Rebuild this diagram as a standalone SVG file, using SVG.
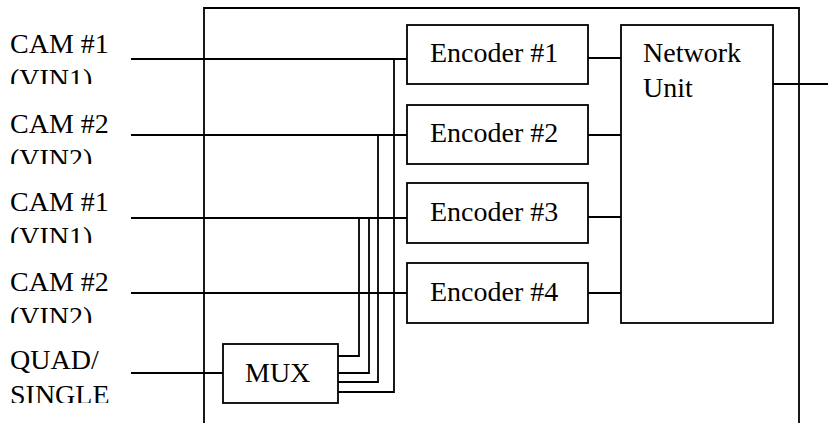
<svg xmlns="http://www.w3.org/2000/svg" width="828" height="423" viewBox="0 0 828 423" font-family="Liberation Serif, serif">
<defs>
<clipPath id="c1"><rect x="0" y="25" width="130" height="59"/></clipPath>
<clipPath id="c2"><rect x="0" y="105" width="130" height="59"/></clipPath>
<clipPath id="c3"><rect x="0" y="183" width="130" height="60"/></clipPath>
<clipPath id="c4"><rect x="0" y="263" width="130" height="60"/></clipPath>
<clipPath id="c5"><rect x="0" y="340" width="130" height="63"/></clipPath>
</defs>
<rect width="828" height="423" fill="#fff"/>
<g id="frame" fill="none" stroke="#000" stroke-width="1.8">
<path d="M204,423 V8 H799 V423"/>
</g>
<g id="labels" fill="#000">
<g clip-path="url(#c1)"><text x="10" y="53" font-family="Liberation Serif" font-size="28">CAM #1</text><text x="10" y="88" font-family="Liberation Serif" font-size="28">(VIN1)</text></g>
<g clip-path="url(#c2)"><text x="10" y="133" font-family="Liberation Serif" font-size="28">CAM #2</text><text x="10" y="168" font-family="Liberation Serif" font-size="28">(VIN2)</text></g>
<g clip-path="url(#c3)"><text x="10" y="211" font-family="Liberation Serif" font-size="28">CAM #1</text><text x="10" y="246" font-family="Liberation Serif" font-size="28">(VIN1)</text></g>
<g clip-path="url(#c4)"><text x="10" y="291" font-family="Liberation Serif" font-size="28">CAM #2</text><text x="10" y="326" font-family="Liberation Serif" font-size="28">(VIN2)</text></g>
<g clip-path="url(#c5)"><text x="10" y="369" font-family="Liberation Serif" font-size="28">QUAD/</text><text x="10" y="404" font-family="Liberation Serif" font-size="28">SINGLE</text></g>
</g>
<g id="connectors" fill="none" stroke="#000" stroke-width="1.8">
<path d="M131,59 H407 M131,135 H407 M131,218 H407 M131,293 H407 M131,373 H224"/>
<path d="M338,356 H359 V218 M338,373 H369 V218 M338,382 H378 V135 M338,392 H394 V59"/>
<path d="M588,58 H621 M588,135 H621 M588,217 H621 M588,293 H621 M773,84 H828"/>
</g>
<g id="enc1"><rect x="407" y="25" width="181" height="59" fill="#fff" stroke="#000" stroke-width="1.8"/><text x="430" y="62" font-family="Liberation Serif" font-size="28">Encoder #1</text></g>
<g id="enc2"><rect x="407" y="105" width="181" height="59" fill="#fff" stroke="#000" stroke-width="1.8"/><text x="430" y="142" font-family="Liberation Serif" font-size="28">Encoder #2</text></g>
<g id="enc3"><rect x="407" y="183" width="181" height="60" fill="#fff" stroke="#000" stroke-width="1.8"/><text x="430" y="221" font-family="Liberation Serif" font-size="28">Encoder #3</text></g>
<g id="enc4"><rect x="407" y="263" width="181" height="60" fill="#fff" stroke="#000" stroke-width="1.8"/><text x="430" y="301" font-family="Liberation Serif" font-size="28">Encoder #4</text></g>
<g id="network"><rect x="621" y="25" width="152" height="298" fill="#fff" stroke="#000" stroke-width="1.8"/><text x="643" y="62" font-family="Liberation Serif" font-size="28">Network</text><text x="643" y="97" font-family="Liberation Serif" font-size="28">Unit</text></g>
<g id="mux"><rect x="223" y="344" width="115" height="59" fill="#fff" stroke="#000" stroke-width="1.8"/><text x="245" y="382" font-family="Liberation Serif" font-size="28">MUX</text></g>
</svg>
